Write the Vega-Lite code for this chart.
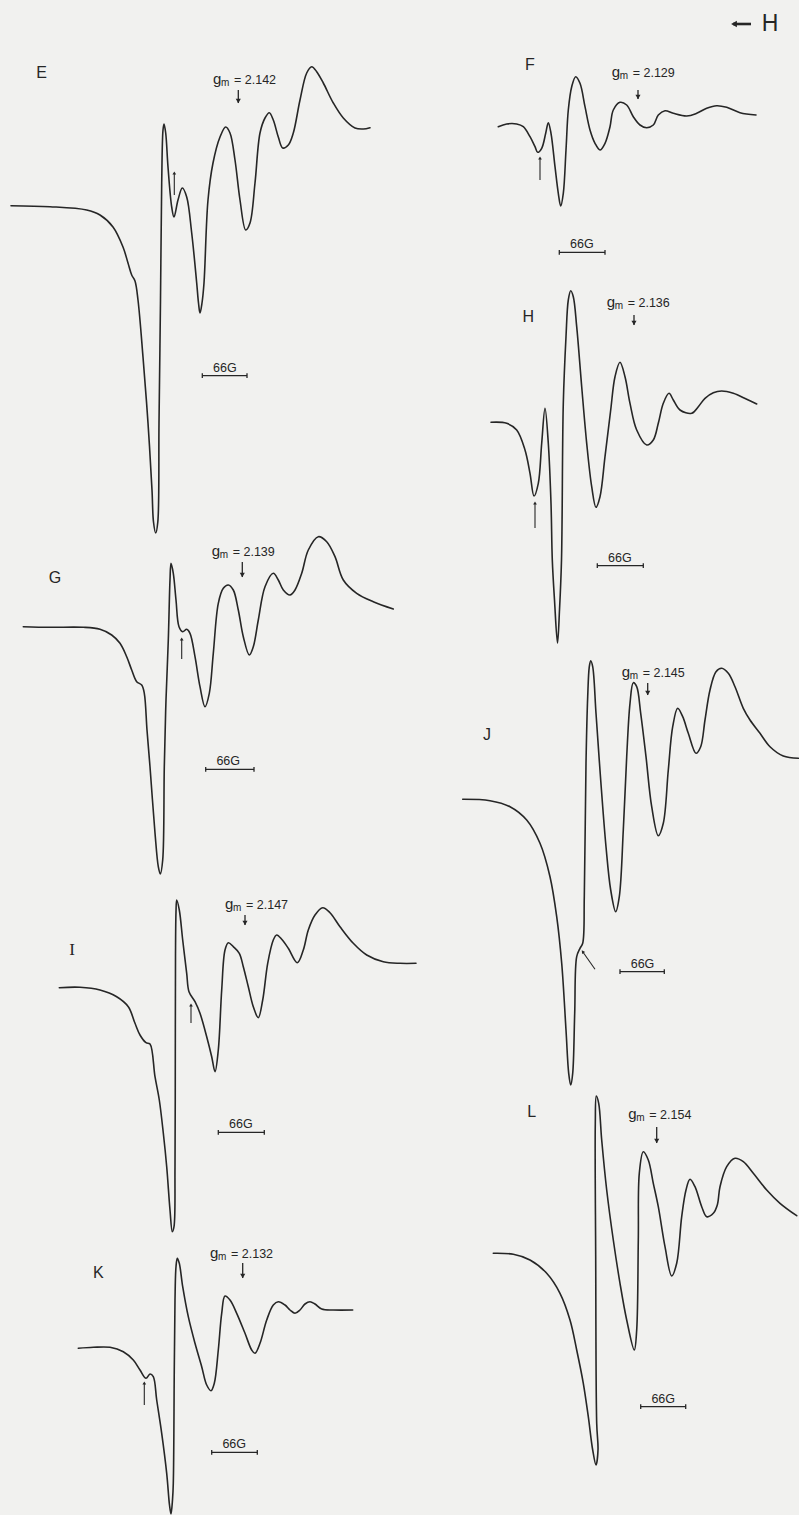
{
  "$schema": "https://vega.github.io/schema/vega-lite/v6.json",
  "width": 799,
  "height": 1515,
  "autosize": {"type": "none"},
  "padding": 0,
  "background": "#f1f1ef",
  "config": {"view": {"stroke": null}},
  "datasets": {
    "spectra": [
      {"panel":"E","x":11,"y":205.7},{"panel":"E","x":50,"y":206.7},{"panel":"E","x":86.7,"y":210},{"panel":"E","x":100,"y":215},{"panel":"E","x":113,"y":227},{"panel":"E","x":123,"y":247},{"panel":"E","x":128,"y":263},{"panel":"E","x":131.7,"y":275},{"panel":"E","x":135,"y":281},{"panel":"E","x":138,"y":300},{"panel":"E","x":143,"y":357},{"panel":"E","x":148,"y":423},{"panel":"E","x":152,"y":490},{"panel":"E","x":153.5,"y":522},{"panel":"E","x":155.7,"y":533},{"panel":"E","x":157.8,"y":522},{"panel":"E","x":159,"y":423},{"panel":"E","x":160.5,"y":300},{"panel":"E","x":161.7,"y":183},{"panel":"E","x":163,"y":130},{"panel":"E","x":164,"y":124},{"panel":"E","x":165.7,"y":133},{"panel":"E","x":168,"y":167},{"panel":"E","x":171.7,"y":207},{"panel":"E","x":174,"y":217},{"panel":"E","x":178,"y":200},{"panel":"E","x":182.3,"y":188},{"panel":"E","x":186.7,"y":197},{"panel":"E","x":191.7,"y":233},{"panel":"E","x":196.7,"y":283},{"panel":"E","x":198.5,"y":303},{"panel":"E","x":200,"y":313},{"panel":"E","x":202,"y":303},{"panel":"E","x":204,"y":283},{"panel":"E","x":208,"y":200},{"panel":"E","x":213,"y":163},{"panel":"E","x":220,"y":137},{"panel":"E","x":225.7,"y":127},{"panel":"E","x":230,"y":133},{"panel":"E","x":235,"y":160},{"panel":"E","x":240,"y":200},{"panel":"E","x":245.7,"y":230},{"panel":"E","x":250,"y":223},{"panel":"E","x":255,"y":183},{"panel":"E","x":260,"y":133},{"panel":"E","x":265,"y":118},{"panel":"E","x":269.3,"y":112.7},{"panel":"E","x":273.3,"y":120},{"panel":"E","x":278.3,"y":137},{"panel":"E","x":282.7,"y":148},{"panel":"E","x":288.3,"y":145},{"panel":"E","x":293.3,"y":133},{"panel":"E","x":300,"y":100},{"panel":"E","x":306.7,"y":73},{"panel":"E","x":311.7,"y":66.7},{"panel":"E","x":316.7,"y":71.7},{"panel":"E","x":323.3,"y":83},{"panel":"E","x":333.3,"y":103},{"panel":"E","x":343.3,"y":118},{"panel":"E","x":355,"y":128},{"panel":"E","x":363.3,"y":129},{"panel":"E","x":370,"y":127.7},

      {"panel":"F","x":498.3,"y":126.7},{"panel":"F","x":506.7,"y":124},{"panel":"F","x":516.7,"y":124},{"panel":"F","x":523.3,"y":126.7},{"panel":"F","x":530,"y":136.7},{"panel":"F","x":535,"y":146.7},{"panel":"F","x":537.7,"y":152.3},{"panel":"F","x":541.7,"y":148.3},{"panel":"F","x":545.7,"y":133.3},{"panel":"F","x":548.3,"y":122.7},{"panel":"F","x":551,"y":133.3},{"panel":"F","x":555,"y":166.7},{"panel":"F","x":558.3,"y":193.3},{"panel":"F","x":560.7,"y":206},{"panel":"F","x":563.3,"y":193.3},{"panel":"F","x":566,"y":150},{"panel":"F","x":568.3,"y":110},{"panel":"F","x":571.7,"y":86.7},{"panel":"F","x":575.7,"y":76.7},{"panel":"F","x":580,"y":83.3},{"panel":"F","x":585,"y":106.7},{"panel":"F","x":590,"y":130},{"panel":"F","x":595,"y":143.3},{"panel":"F","x":600,"y":150},{"panel":"F","x":605,"y":143.3},{"panel":"F","x":610,"y":126.7},{"panel":"F","x":613.3,"y":110},{"panel":"F","x":620,"y":102.3},{"panel":"F","x":626.7,"y":105},{"panel":"F","x":633.3,"y":116.7},{"panel":"F","x":640,"y":125},{"panel":"F","x":646.7,"y":127.7},{"panel":"F","x":653.3,"y":125},{"panel":"F","x":658.3,"y":115},{"panel":"F","x":665,"y":110.7},{"panel":"F","x":673.3,"y":113.3},{"panel":"F","x":686.7,"y":116},{"panel":"F","x":696.7,"y":113.3},{"panel":"F","x":706.7,"y":108.3},{"panel":"F","x":716.7,"y":105.7},{"panel":"F","x":726.7,"y":107.3},{"panel":"F","x":740,"y":112.7},{"panel":"F","x":756,"y":115},

      {"panel":"H","x":491,"y":422.3},{"panel":"H","x":506.7,"y":423.3},{"panel":"H","x":516.7,"y":430},{"panel":"H","x":525,"y":450},{"panel":"H","x":530,"y":473.3},{"panel":"H","x":534,"y":496},{"panel":"H","x":538.3,"y":483.3},{"panel":"H","x":541.7,"y":443.3},{"panel":"H","x":545,"y":408.3},{"panel":"H","x":548.3,"y":443.3},{"panel":"H","x":551,"y":503.3},{"panel":"H","x":552.3,"y":560},{"panel":"H","x":554.5,"y":600},{"panel":"H","x":557.5,"y":643},{"panel":"H","x":559.5,"y":610},{"panel":"H","x":561.5,"y":560},{"panel":"H","x":563.3,"y":403.3},{"panel":"H","x":566,"y":336.7},{"panel":"H","x":568.3,"y":300},{"panel":"H","x":570.7,"y":290.7},{"panel":"H","x":573.3,"y":296.7},{"panel":"H","x":576.7,"y":326.7},{"panel":"H","x":581.7,"y":386.7},{"panel":"H","x":586.7,"y":443.3},{"panel":"H","x":591.7,"y":486.7},{"panel":"H","x":596,"y":507.3},{"panel":"H","x":600,"y":496.7},{"panel":"H","x":605,"y":456.7},{"panel":"H","x":610.7,"y":410},{"panel":"H","x":615,"y":376.7},{"panel":"H","x":620,"y":362.3},{"panel":"H","x":625,"y":376.7},{"panel":"H","x":630,"y":403.3},{"panel":"H","x":636.7,"y":430},{"panel":"H","x":646.7,"y":445},{"panel":"H","x":653.3,"y":440},{"panel":"H","x":658.3,"y":423.3},{"panel":"H","x":663.3,"y":403.3},{"panel":"H","x":669,"y":393.3},{"panel":"H","x":673.3,"y":400},{"panel":"H","x":680,"y":410},{"panel":"H","x":691.7,"y":413.3},{"panel":"H","x":698.3,"y":406.7},{"panel":"H","x":705,"y":398.3},{"panel":"H","x":713.3,"y":392.7},{"panel":"H","x":721.7,"y":391},{"panel":"H","x":733.3,"y":393.3},{"panel":"H","x":746.7,"y":399.3},{"panel":"H","x":756.7,"y":404},

      {"panel":"G","x":23.3,"y":626.7},{"panel":"G","x":50,"y":627.3},{"panel":"G","x":83.3,"y":627.3},{"panel":"G","x":100,"y":629.3},{"panel":"G","x":111.7,"y":635},{"panel":"G","x":120,"y":643.3},{"panel":"G","x":126.7,"y":656.7},{"panel":"G","x":131.7,"y":670},{"panel":"G","x":136.7,"y":681.7},{"panel":"G","x":141.7,"y":685},{"panel":"G","x":144.3,"y":693.3},{"panel":"G","x":147,"y":730},{"panel":"G","x":150,"y":766.7},{"panel":"G","x":155,"y":833},{"panel":"G","x":158.3,"y":866.7},{"panel":"G","x":160.3,"y":874},{"panel":"G","x":162.7,"y":860},{"panel":"G","x":164.3,"y":766.7},{"panel":"G","x":166,"y":700},{"panel":"G","x":168.3,"y":640},{"panel":"G","x":170,"y":580},{"panel":"G","x":171,"y":563.3},{"panel":"G","x":173.3,"y":573.3},{"panel":"G","x":176,"y":600},{"panel":"G","x":179,"y":626.7},{"panel":"G","x":182.7,"y":631.7},{"panel":"G","x":186.7,"y":629.3},{"panel":"G","x":190,"y":633.3},{"panel":"G","x":195,"y":656.7},{"panel":"G","x":200,"y":686.7},{"panel":"G","x":205,"y":706.7},{"panel":"G","x":209.3,"y":693.3},{"panel":"G","x":213.3,"y":653.3},{"panel":"G","x":218.3,"y":603.3},{"panel":"G","x":223.3,"y":588.3},{"panel":"G","x":228.3,"y":585},{"panel":"G","x":233.3,"y":590},{"panel":"G","x":238.3,"y":610},{"panel":"G","x":243.3,"y":636.7},{"panel":"G","x":249.3,"y":655},{"panel":"G","x":253.3,"y":646.7},{"panel":"G","x":258.3,"y":620},{"panel":"G","x":265,"y":586.7},{"panel":"G","x":273.3,"y":573.3},{"panel":"G","x":278.3,"y":580},{"panel":"G","x":283.3,"y":590},{"panel":"G","x":290,"y":595},{"panel":"G","x":295,"y":590},{"panel":"G","x":301.7,"y":573.3},{"panel":"G","x":308.3,"y":550},{"panel":"G","x":318.3,"y":536.7},{"panel":"G","x":326.7,"y":541.7},{"panel":"G","x":335,"y":556.7},{"panel":"G","x":343.3,"y":580},{"panel":"G","x":356.7,"y":593.3},{"panel":"G","x":373.3,"y":601.7},{"panel":"G","x":393.3,"y":609},

      {"panel":"J","x":462.7,"y":799.3},{"panel":"J","x":490,"y":800.7},{"panel":"J","x":510,"y":806.7},{"panel":"J","x":526.7,"y":820},{"panel":"J","x":540,"y":843.3},{"panel":"J","x":550,"y":876.7},{"panel":"J","x":556.7,"y":916.7},{"panel":"J","x":561.7,"y":963.3},{"panel":"J","x":566,"y":1030},{"panel":"J","x":568.7,"y":1073.3},{"panel":"J","x":570.7,"y":1085},{"panel":"J","x":572.7,"y":1073.3},{"panel":"J","x":574.7,"y":1013.3},{"panel":"J","x":576.7,"y":956.7},{"panel":"J","x":580,"y":948.3},{"panel":"J","x":582.7,"y":943.3},{"panel":"J","x":584.3,"y":896.7},{"panel":"J","x":586,"y":763.3},{"panel":"J","x":587.7,"y":696.7},{"panel":"J","x":589.3,"y":666.7},{"panel":"J","x":590.7,"y":660.7},{"panel":"J","x":592.7,"y":666.7},{"panel":"J","x":596,"y":713.3},{"panel":"J","x":600.7,"y":780},{"panel":"J","x":606,"y":846.7},{"panel":"J","x":610.7,"y":890},{"panel":"J","x":615.7,"y":911.7},{"panel":"J","x":619.3,"y":896.7},{"panel":"J","x":623.3,"y":830},{"panel":"J","x":626.7,"y":756.7},{"panel":"J","x":630,"y":703.3},{"panel":"J","x":633.3,"y":682.7},{"panel":"J","x":636.7,"y":686.7},{"panel":"J","x":640.7,"y":713.3},{"panel":"J","x":646,"y":756.7},{"panel":"J","x":651.7,"y":806.7},{"panel":"J","x":658.3,"y":835.7},{"panel":"J","x":663.3,"y":823.3},{"panel":"J","x":668.3,"y":770},{"panel":"J","x":672.7,"y":726.7},{"panel":"J","x":677.7,"y":708.3},{"panel":"J","x":682.7,"y":716.7},{"panel":"J","x":688.3,"y":733.3},{"panel":"J","x":696,"y":753.3},{"panel":"J","x":700.7,"y":746.7},{"panel":"J","x":705,"y":720},{"panel":"J","x":710,"y":690},{"panel":"J","x":716,"y":671.7},{"panel":"J","x":721.7,"y":668.3},{"panel":"J","x":728.3,"y":673.3},{"panel":"J","x":735,"y":686.7},{"panel":"J","x":743.3,"y":708.3},{"panel":"J","x":750,"y":720},{"panel":"J","x":760,"y":733.3},{"panel":"J","x":770,"y":746.7},{"panel":"J","x":783.3,"y":756},{"panel":"J","x":798.3,"y":758.3},

      {"panel":"I","x":59.3,"y":987.7},{"panel":"I","x":80,"y":987.3},{"panel":"I","x":100,"y":990},{"panel":"I","x":116.7,"y":996.7},{"panel":"I","x":128.3,"y":1006.7},{"panel":"I","x":135,"y":1023.3},{"panel":"I","x":140,"y":1035},{"panel":"I","x":146,"y":1042.7},{"panel":"I","x":150,"y":1044},{"panel":"I","x":155,"y":1076.7},{"panel":"I","x":159.3,"y":1100},{"panel":"I","x":163.3,"y":1133},{"panel":"I","x":166.7,"y":1166.7},{"panel":"I","x":170,"y":1210},{"panel":"I","x":172.3,"y":1231.7},{"panel":"I","x":174,"y":1226.7},{"panel":"I","x":175,"y":1166.7},{"panel":"I","x":175.3,"y":1056.7},{"panel":"I","x":175.5,"y":956.7},{"panel":"I","x":176,"y":912},{"panel":"I","x":176.7,"y":900},{"panel":"I","x":179.3,"y":910},{"panel":"I","x":182.7,"y":940},{"panel":"I","x":186.7,"y":973.3},{"panel":"I","x":189,"y":991.7},{"panel":"I","x":195,"y":1001.7},{"panel":"I","x":200,"y":1013.3},{"panel":"I","x":206.7,"y":1036.7},{"panel":"I","x":211.7,"y":1056.7},{"panel":"I","x":215,"y":1071.7},{"panel":"I","x":218.3,"y":1050},{"panel":"I","x":221.7,"y":990},{"panel":"I","x":225,"y":950},{"panel":"I","x":228.3,"y":942.7},{"panel":"I","x":233.3,"y":946.7},{"panel":"I","x":239.3,"y":953.3},{"panel":"I","x":243.3,"y":966.7},{"panel":"I","x":248.3,"y":986.7},{"panel":"I","x":253.3,"y":1006.7},{"panel":"I","x":258.3,"y":1017.7},{"panel":"I","x":262.7,"y":1000},{"panel":"I","x":267.7,"y":963.3},{"panel":"I","x":273.3,"y":940},{"panel":"I","x":276.7,"y":935},{"panel":"I","x":281.7,"y":939.3},{"panel":"I","x":288.3,"y":948.3},{"panel":"I","x":297.3,"y":962.7},{"panel":"I","x":303.3,"y":950},{"panel":"I","x":308.3,"y":930},{"panel":"I","x":315,"y":915},{"panel":"I","x":322.7,"y":907.7},{"panel":"I","x":330,"y":912.7},{"panel":"I","x":340,"y":926.7},{"panel":"I","x":353.3,"y":943.3},{"panel":"I","x":366.7,"y":955},{"panel":"I","x":383.3,"y":961.7},{"panel":"I","x":400,"y":963.3},{"panel":"I","x":416,"y":963.3},

      {"panel":"K","x":78.3,"y":1348.3},{"panel":"K","x":93.3,"y":1347.3},{"panel":"K","x":110,"y":1347.3},{"panel":"K","x":123.3,"y":1351.7},{"panel":"K","x":133.3,"y":1360},{"panel":"K","x":140,"y":1370},{"panel":"K","x":146,"y":1378.3},{"panel":"K","x":150,"y":1374},{"panel":"K","x":153.3,"y":1376.7},{"panel":"K","x":156.7,"y":1400},{"panel":"K","x":161.7,"y":1433.3},{"panel":"K","x":166.7,"y":1473.3},{"panel":"K","x":169.5,"y":1505},{"panel":"K","x":171,"y":1514},{"panel":"K","x":172.5,"y":1500},{"panel":"K","x":173.3,"y":1483.3},{"panel":"K","x":174.3,"y":1366.7},{"panel":"K","x":175,"y":1300},{"panel":"K","x":176,"y":1266.7},{"panel":"K","x":177.3,"y":1258.3},{"panel":"K","x":179.3,"y":1263.3},{"panel":"K","x":182.7,"y":1286.7},{"panel":"K","x":188.3,"y":1316.7},{"panel":"K","x":195,"y":1343.3},{"panel":"K","x":201.7,"y":1366.7},{"panel":"K","x":206.7,"y":1385},{"panel":"K","x":211,"y":1390.7},{"panel":"K","x":214.3,"y":1383.3},{"panel":"K","x":218.3,"y":1350},{"panel":"K","x":221.7,"y":1313.3},{"panel":"K","x":225,"y":1296},{"panel":"K","x":230,"y":1300},{"panel":"K","x":236.7,"y":1313.3},{"panel":"K","x":245,"y":1333.3},{"panel":"K","x":251.7,"y":1350},{"panel":"K","x":255,"y":1353.3},{"panel":"K","x":260,"y":1343.3},{"panel":"K","x":266.7,"y":1320},{"panel":"K","x":273.3,"y":1305},{"panel":"K","x":278.3,"y":1301.7},{"panel":"K","x":285,"y":1305},{"panel":"K","x":290,"y":1310},{"panel":"K","x":295,"y":1313.3},{"panel":"K","x":300,"y":1310},{"panel":"K","x":305,"y":1304},{"panel":"K","x":310,"y":1301.7},{"panel":"K","x":315,"y":1304},{"panel":"K","x":321.7,"y":1309},{"panel":"K","x":333.3,"y":1310},{"panel":"K","x":352.7,"y":1310},

      {"panel":"L","x":493.3,"y":1253.3},{"panel":"L","x":513.3,"y":1254.3},{"panel":"L","x":530,"y":1260},{"panel":"L","x":546.7,"y":1273.3},{"panel":"L","x":560,"y":1293.3},{"panel":"L","x":570,"y":1320},{"panel":"L","x":576.7,"y":1350},{"panel":"L","x":583.3,"y":1383.3},{"panel":"L","x":588.3,"y":1416.7},{"panel":"L","x":592.7,"y":1450},{"panel":"L","x":596,"y":1465},{"panel":"L","x":598,"y":1450},{"panel":"L","x":596.7,"y":1423.3},{"panel":"L","x":595.7,"y":1256.7},{"panel":"L","x":595.3,"y":1123.3},{"panel":"L","x":596.3,"y":1096},{"panel":"L","x":598.7,"y":1103.3},{"panel":"L","x":601.7,"y":1140},{"panel":"L","x":606.7,"y":1190},{"panel":"L","x":613.3,"y":1240},{"panel":"L","x":620,"y":1283.3},{"panel":"L","x":626.7,"y":1320},{"panel":"L","x":634.3,"y":1350},{"panel":"L","x":636.7,"y":1330},{"panel":"L","x":638.3,"y":1240},{"panel":"L","x":639.3,"y":1173.3},{"panel":"L","x":643.3,"y":1151.7},{"panel":"L","x":648.3,"y":1160},{"panel":"L","x":653.3,"y":1183.3},{"panel":"L","x":658.3,"y":1206.7},{"panel":"L","x":665,"y":1246.7},{"panel":"L","x":671.7,"y":1276},{"panel":"L","x":676.7,"y":1263.3},{"panel":"L","x":681.7,"y":1216.7},{"panel":"L","x":686,"y":1190},{"panel":"L","x":690,"y":1179.3},{"panel":"L","x":695,"y":1186.7},{"panel":"L","x":701.7,"y":1206.7},{"panel":"L","x":706.7,"y":1216.7},{"panel":"L","x":713.3,"y":1213.3},{"panel":"L","x":717.3,"y":1205},{"panel":"L","x":720,"y":1186.7},{"panel":"L","x":726.7,"y":1166.7},{"panel":"L","x":735,"y":1158.3},{"panel":"L","x":743.3,"y":1161.7},{"panel":"L","x":753.3,"y":1173.3},{"panel":"L","x":766.7,"y":1190},{"panel":"L","x":780,"y":1203.3},{"panel":"L","x":796.7,"y":1215.7}
    ],
    "panels": [
      {"panel":"E","x":41.7,"y":73.3},{"panel":"F","x":530,"y":65},{"panel":"H","x":528.3,"y":316.7},{"panel":"G","x":55,"y":578.3},
      {"panel":"J","x":487,"y":735},{"panel":"I","x":72,"y":950},{"panel":"K","x":98.3,"y":1272.7},{"panel":"L","x":531.7,"y":1111.7}
    ],
    "fieldDirection": [{"label":"H","x":770,"y":24,"xHead":733,"xTail":751}],
    "gm": [
      {"panel":"E","x":213,"y":80,"label":"= 2.142"},
      {"panel":"F","x":611.7,"y":73.3,"label":"= 2.129"},
      {"panel":"H","x":606.7,"y":303.3,"label":"= 2.136"},
      {"panel":"G","x":211.7,"y":551.7,"label":"= 2.139"},
      {"panel":"J","x":621.7,"y":673.3,"label":"= 2.145"},
      {"panel":"I","x":225,"y":905,"label":"= 2.147"},
      {"panel":"K","x":210,"y":1254.3,"label":"= 2.132"},
      {"panel":"L","x":628.3,"y":1115,"label":"= 2.154"}
    ],
    "gmArrows": [
      {"panel":"E","x":238.3,"y":90,"y2":103},
      {"panel":"F","x":638,"y":90,"y2":99},
      {"panel":"H","x":634,"y":315,"y2":325},
      {"panel":"G","x":242.3,"y":562,"y2":577},
      {"panel":"J","x":647.7,"y":683,"y2":695},
      {"panel":"I","x":245,"y":915,"y2":925},
      {"panel":"K","x":242.7,"y":1263,"y2":1278},
      {"panel":"L","x":656.7,"y":1127,"y2":1143}
    ],
    "lineArrows": [
      {"panel":"E","x":174.3,"y":195,"x2":174.3,"y2":173,"heading":0},
      {"panel":"F","x":540,"y":180,"x2":540,"y2":158,"heading":0},
      {"panel":"H","x":535,"y":528,"x2":535,"y2":503,"heading":0},
      {"panel":"G","x":181.7,"y":659,"x2":181.7,"y2":639,"heading":0},
      {"panel":"J","x":595,"y":969.3,"x2":582.7,"y2":951.7,"heading":325},
      {"panel":"I","x":191,"y":1023,"x2":191,"y2":1005,"heading":0},
      {"panel":"K","x":144.3,"y":1405,"x2":144.3,"y2":1383,"heading":0}
    ],
    "scaleBars": [
      {"panel":"E","x":202.3,"x2":247,"y":375.7,"label":"66G"},
      {"panel":"F","x":559.3,"x2":605,"y":252.3,"label":"66G"},
      {"panel":"H","x":597.3,"x2":643.3,"y":565.7,"label":"66G"},
      {"panel":"G","x":205.7,"x2":254,"y":769.3,"label":"66G"},
      {"panel":"J","x":620,"x2":664.3,"y":971.7,"label":"66G"},
      {"panel":"I","x":218.3,"x2":264.3,"y":1132.3,"label":"66G"},
      {"panel":"K","x":211.7,"x2":257.3,"y":1452.3,"label":"66G"},
      {"panel":"L","x":640.7,"x2":685.7,"y":1406.7,"label":"66G"}
    ]
  },
  "encoding": {
    "x": {"field": "x", "type": "quantitative", "scale": {"domain": [0, 799], "nice": false, "zero": false}, "axis": null},
    "y": {"field": "y", "type": "quantitative", "scale": {"domain": [0, 1515], "nice": false, "zero": false, "reverse": true}, "axis": null}
  },
  "layer": [
    {
      "data": {"name": "spectra"},
      "mark": {"type": "line", "interpolate": "catmull-rom", "stroke": "#262626", "strokeWidth": 1.6, "strokeJoin": "round", "strokeCap": "round"},
      "encoding": {"detail": {"field": "panel"}, "order": {"value": null}}
    },
    {
      "data": {"name": "panels"},
      "transform": [{"filter": "datum.panel !== 'I'"}],
      "mark": {"type": "text", "font": "Liberation Sans", "fontSize": 16, "align": "center", "baseline": "middle", "fill": "#262626"},
      "encoding": {"text": {"field": "panel"}}
    },
    {
      "data": {"name": "panels"},
      "transform": [{"filter": "datum.panel === 'I'"}],
      "mark": {"type": "text", "font": "Liberation Serif", "fontSize": 17, "align": "center", "baseline": "middle", "fill": "#262626"},
      "encoding": {"text": {"field": "panel"}}
    },
    {
      "data": {"name": "fieldDirection"},
      "mark": {"type": "text", "font": "Liberation Sans", "fontSize": 23, "align": "center", "baseline": "middle", "fill": "#262626"},
      "encoding": {"text": {"field": "label"}}
    },
    {
      "data": {"name": "fieldDirection"},
      "mark": {"type": "rule", "stroke": "#262626", "strokeWidth": 2.6},
      "encoding": {"x": {"field": "xHead", "type": "quantitative"}, "x2": {"field": "xTail"}, "y": {"field": "y", "type": "quantitative"}}
    },
    {
      "data": {"name": "fieldDirection"},
      "mark": {"type": "point", "shape": "triangle-left", "filled": true, "size": 45, "fill": "#262626", "opacity": 1, "xOffset": 1},
      "encoding": {"x": {"field": "xHead", "type": "quantitative"}, "y": {"field": "y", "type": "quantitative"}}
    },
    {
      "data": {"name": "gm"},
      "mark": {"type": "text", "text": "g", "font": "Liberation Sans", "fontSize": 15, "align": "left", "baseline": "middle", "dy": -1, "fill": "#262626"}
    },
    {
      "data": {"name": "gm"},
      "mark": {"type": "text", "text": "m", "font": "Liberation Sans", "fontSize": 10, "align": "left", "baseline": "middle", "dx": 8, "dy": 3, "fill": "#262626"}
    },
    {
      "data": {"name": "gm"},
      "mark": {"type": "text", "font": "Liberation Sans", "fontSize": 12.5, "align": "left", "baseline": "middle", "dx": 21, "fill": "#262626"},
      "encoding": {"text": {"field": "label"}}
    },
    {
      "data": {"name": "gmArrows"},
      "mark": {"type": "rule", "stroke": "#262626", "strokeWidth": 1.3},
      "encoding": {"y2": {"field": "y2"}}
    },
    {
      "data": {"name": "gmArrows"},
      "mark": {"type": "point", "shape": "triangle-down", "filled": true, "size": 26, "fill": "#262626", "opacity": 1, "yOffset": -2},
      "encoding": {"y": {"field": "y2", "type": "quantitative"}}
    },
    {
      "data": {"name": "lineArrows"},
      "mark": {"type": "rule", "stroke": "#262626", "strokeWidth": 1.1},
      "encoding": {"x2": {"field": "x2"}, "y2": {"field": "y2"}}
    },
    {
      "data": {"name": "lineArrows"},
      "mark": {"type": "point", "shape": "triangle-up", "filled": true, "size": 14, "fill": "#262626", "opacity": 1},
      "encoding": {"x": {"field": "x2", "type": "quantitative"}, "y": {"field": "y2", "type": "quantitative"}, "angle": {"field": "heading", "type": "quantitative", "scale": null}}
    },
    {
      "data": {"name": "scaleBars"},
      "mark": {"type": "rule", "stroke": "#262626", "strokeWidth": 1.3},
      "encoding": {"x2": {"field": "x2"}}
    },
    {
      "data": {"name": "scaleBars"},
      "mark": {"type": "point", "shape": "M0,-1L0,1", "size": 22, "stroke": "#262626", "strokeWidth": 1.3, "opacity": 1}
    },
    {
      "data": {"name": "scaleBars"},
      "mark": {"type": "point", "shape": "M0,-1L0,1", "size": 22, "stroke": "#262626", "strokeWidth": 1.3, "opacity": 1},
      "encoding": {"x": {"field": "x2", "type": "quantitative"}}
    },
    {
      "data": {"name": "scaleBars"},
      "mark": {"type": "text", "font": "Liberation Sans", "fontSize": 12.5, "align": "center", "baseline": "middle", "dx": 22.5, "dy": -8, "fill": "#262626"},
      "encoding": {"text": {"field": "label"}}
    }
  ]
}
